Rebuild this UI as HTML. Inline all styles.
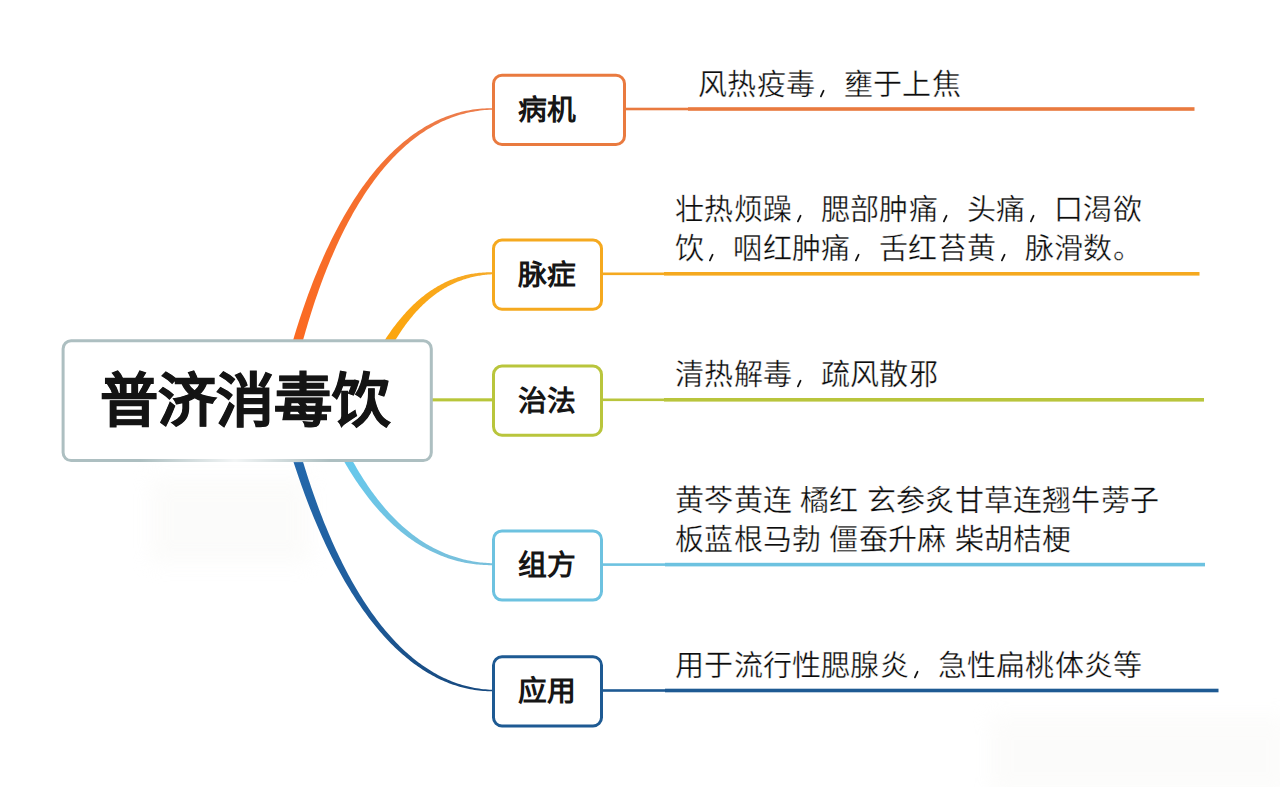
<!DOCTYPE html>
<html lang="zh-CN"><head><meta charset="utf-8"><style>
html,body{margin:0;padding:0;background:#fff;width:1280px;height:787px;overflow:hidden}
body{position:relative;font-family:"Liberation Sans",sans-serif}
svg.main{position:absolute;left:0;top:0}
.cm{display:inline-block;vertical-align:top}
.blob{position:absolute;background:#f3f2ee;filter:blur(10px);opacity:.28}
.tp,.tx,.ct{position:absolute;white-space:nowrap;line-height:1;color:#161616}
.tp{font-size:28.8px;font-weight:700}
.tx{font-size:29px;letter-spacing:0.2px;font-weight:400;color:#0c0c0c;-webkit-text-stroke:0.35px #fff}
.ct{font-size:58.2px;font-weight:700;color:#141414;-webkit-text-stroke:0.8px #141414}
</style></head><body>
<div class="blob" style="left:150px;top:478px;width:160px;height:86px"></div>
<div class="blob" style="left:990px;top:716px;width:300px;height:80px;opacity:.25"></div>
<svg class="main" width="1280" height="787" viewBox="0 0 1280 787">
<defs><linearGradient id="gdb" x1="0" y1="460" x2="0" y2="692" gradientUnits="userSpaceOnUse"><stop offset="0" stop-color="#2468ab"/><stop offset="0.6" stop-color="#1f5d9c"/><stop offset="1" stop-color="#174a80"/></linearGradient><linearGradient id="gor" x1="0" y1="340" x2="0" y2="108" gradientUnits="userSpaceOnUse"><stop offset="0" stop-color="#fb6a22"/><stop offset="0.7" stop-color="#f5702f"/><stop offset="1" stop-color="#ec7d4c"/></linearGradient><linearGradient id="gye" x1="390" y1="0" x2="494" y2="0" gradientUnits="userSpaceOnUse"><stop offset="0" stop-color="#fca60e"/><stop offset="1" stop-color="#f6ab2a"/></linearGradient><linearGradient id="glb" x1="0" y1="460" x2="0" y2="566" gradientUnits="userSpaceOnUse"><stop offset="0" stop-color="#66c8ec"/><stop offset="1" stop-color="#78c0dc"/></linearGradient></defs>
<path d="M293.09,379.61 L294.08,375.38 L295.07,371.18 L296.08,367.00 L297.10,362.86 L298.13,358.75 L299.18,354.66 L300.23,350.60 L301.31,346.58 L302.39,342.58 L303.49,338.61 L304.59,334.68 L305.72,330.77 L306.85,326.89 L308.00,323.05 L309.16,319.23 L310.33,315.45 L311.51,311.69 L312.71,307.97 L313.92,304.27 L315.14,300.61 L316.37,296.98 L317.62,293.38 L318.88,289.81 L320.15,286.28 L321.43,282.77 L322.73,279.30 L324.04,275.85 L325.36,272.44 L326.69,269.07 L328.03,265.72 L329.39,262.41 L330.76,259.12 L332.14,255.88 L333.53,252.66 L334.94,249.48 L336.36,246.32 L337.78,243.21 L339.23,240.12 L340.68,237.07 L342.14,234.05 L343.62,231.07 L345.11,228.11 L346.61,225.20 L348.12,222.31 L349.65,219.46 L351.18,216.64 L352.73,213.86 L354.29,211.11 L355.86,208.40 L357.44,205.72 L359.04,203.07 L360.65,200.46 L362.26,197.88 L363.89,195.34 L365.53,192.84 L367.19,190.36 L368.85,187.93 L370.53,185.53 L372.21,183.16 L373.91,180.83 L375.62,178.53 L377.35,176.28 L379.08,174.05 L380.82,171.86 L382.58,169.71 L384.35,167.60 L386.12,165.52 L387.91,163.47 L389.71,161.46 L391.53,159.49 L393.35,157.56 L395.18,155.66 L397.03,153.80 L398.89,151.98 L400.75,150.19 L402.63,148.44 L404.52,146.73 L406.43,145.05 L408.34,143.41 L410.26,141.81 L412.20,140.25 L414.14,138.72 L416.10,137.23 L418.07,135.78 L420.05,134.37 L422.04,133.00 L424.04,131.66 L426.05,130.36 L428.08,129.10 L430.11,127.88 L432.16,126.70 L434.22,125.55 L436.28,124.45 L438.36,123.38 L440.45,122.35 L442.56,121.36 L444.67,120.41 L446.79,119.50 L448.93,118.63 L451.07,117.80 L453.23,117.01 L455.40,116.25 L457.58,115.54 L459.77,114.87 L461.97,114.23 L464.19,113.64 L466.41,113.09 L468.65,112.57 L470.90,112.10 L473.16,111.67 L475.43,111.28 L477.71,110.93 L480.00,110.62 L482.31,110.35 L484.62,110.12 L486.95,109.93 L489.29,109.78 L491.64,109.67 L494.00,109.60 L494.00,108.20 L491.61,108.17 L489.23,108.20 L486.86,108.27 L484.49,108.38 L482.14,108.54 L479.79,108.74 L477.46,108.98 L475.13,109.27 L472.81,109.59 L470.50,109.97 L468.20,110.38 L465.91,110.83 L463.63,111.33 L461.35,111.87 L459.09,112.45 L456.84,113.08 L454.59,113.74 L452.36,114.45 L450.13,115.20 L447.92,115.98 L445.71,116.81 L443.52,117.69 L441.33,118.60 L439.15,119.55 L436.99,120.54 L434.83,121.58 L432.68,122.65 L430.55,123.77 L428.42,124.92 L426.31,126.12 L424.20,127.35 L422.11,128.63 L420.02,129.94 L417.95,131.29 L415.88,132.68 L413.83,134.12 L411.79,135.59 L409.76,137.10 L407.74,138.65 L405.73,140.23 L403.73,141.86 L401.74,143.52 L399.76,145.23 L397.79,146.97 L395.83,148.75 L393.89,150.56 L391.95,152.42 L390.03,154.31 L388.12,156.24 L386.21,158.20 L384.32,160.21 L382.44,162.25 L380.58,164.33 L378.72,166.44 L376.87,168.59 L375.04,170.78 L373.21,173.01 L371.40,175.27 L369.60,177.57 L367.81,179.90 L366.03,182.27 L364.26,184.67 L362.50,187.12 L360.76,189.59 L359.03,192.10 L357.30,194.65 L355.59,197.23 L353.89,199.85 L352.21,202.50 L350.53,205.19 L348.86,207.91 L347.21,210.67 L345.57,213.46 L343.94,216.29 L342.32,219.15 L340.71,222.04 L339.12,224.97 L337.53,227.93 L335.96,230.93 L334.40,233.96 L332.85,237.02 L331.32,240.12 L329.79,243.25 L328.28,246.41 L326.78,249.61 L325.29,252.84 L323.81,256.10 L322.34,259.39 L320.89,262.72 L319.44,266.08 L318.01,269.47 L316.60,272.90 L315.19,276.36 L313.79,279.85 L312.41,283.37 L311.04,286.92 L309.68,290.50 L308.34,294.12 L307.00,297.77 L305.68,301.44 L304.37,305.15 L303.07,308.90 L301.79,312.67 L300.51,316.47 L299.25,320.30 L298.00,324.17 L296.77,328.06 L295.54,331.99 L294.33,335.95 L293.13,339.93 L291.94,343.95 L290.77,347.99 L289.60,352.07 L288.45,356.17 L287.31,360.31 L286.19,364.47 L285.08,368.67 L283.98,372.89 L282.89,377.15Z" fill="url(#gor)"/>
<path d="M379.72,369.73 L380.44,368.16 L381.17,366.60 L381.91,365.06 L382.65,363.52 L383.39,362.01 L384.13,360.50 L384.88,359.01 L385.63,357.53 L386.39,356.06 L387.15,354.61 L387.91,353.17 L388.67,351.74 L389.44,350.33 L390.21,348.93 L390.99,347.55 L391.77,346.17 L392.55,344.81 L393.34,343.47 L394.13,342.13 L394.92,340.81 L395.72,339.51 L396.52,338.21 L397.32,336.93 L398.13,335.66 L398.94,334.41 L399.75,333.17 L400.57,331.94 L401.39,330.73 L402.22,329.53 L403.05,328.34 L403.88,327.16 L404.72,326.00 L405.56,324.85 L406.40,323.72 L407.25,322.59 L408.10,321.48 L408.95,320.39 L409.81,319.31 L410.68,318.24 L411.54,317.18 L412.41,316.13 L413.29,315.10 L414.17,314.09 L415.05,313.08 L415.93,312.09 L416.82,311.11 L417.72,310.14 L418.61,309.19 L419.52,308.25 L420.42,307.33 L421.33,306.41 L422.24,305.51 L423.16,304.62 L424.08,303.75 L425.01,302.89 L425.94,302.04 L426.87,301.20 L427.81,300.38 L428.75,299.57 L429.70,298.77 L430.65,297.98 L431.61,297.21 L432.57,296.45 L433.53,295.71 L434.50,294.97 L435.47,294.25 L436.45,293.55 L437.43,292.85 L438.41,292.17 L439.40,291.50 L440.40,290.84 L441.40,290.20 L442.40,289.57 L443.41,288.95 L444.42,288.34 L445.44,287.75 L446.46,287.17 L447.49,286.60 L448.52,286.05 L449.56,285.50 L450.60,284.97 L451.64,284.46 L452.69,283.95 L453.75,283.46 L454.81,282.98 L455.88,282.52 L456.95,282.06 L458.02,281.62 L459.10,281.19 L460.19,280.78 L461.28,280.38 L462.37,279.99 L463.48,279.61 L464.58,279.24 L465.69,278.89 L466.81,278.55 L467.93,278.22 L469.06,277.91 L470.19,277.61 L471.33,277.32 L472.47,277.04 L473.62,276.78 L474.77,276.53 L475.93,276.29 L477.10,276.06 L478.27,275.85 L479.45,275.65 L480.63,275.46 L481.81,275.29 L483.01,275.12 L484.21,274.97 L485.41,274.84 L486.62,274.71 L487.84,274.60 L489.06,274.50 L490.28,274.41 L491.52,274.33 L492.76,274.26 L494.00,274.20 L494.00,272.40 L492.73,272.35 L491.47,272.32 L490.22,272.31 L488.96,272.32 L487.71,272.33 L486.47,272.37 L485.23,272.41 L483.99,272.47 L482.75,272.55 L481.52,272.64 L480.30,272.74 L479.07,272.86 L477.86,272.99 L476.64,273.14 L475.43,273.30 L474.22,273.47 L473.02,273.66 L471.82,273.86 L470.63,274.07 L469.43,274.30 L468.25,274.54 L467.06,274.80 L465.88,275.07 L464.71,275.35 L463.54,275.65 L462.37,275.97 L461.20,276.29 L460.04,276.63 L458.89,276.99 L457.73,277.35 L456.58,277.73 L455.44,278.13 L454.30,278.54 L453.16,278.96 L452.03,279.40 L450.90,279.85 L449.77,280.32 L448.65,280.80 L447.53,281.29 L446.42,281.80 L445.31,282.32 L444.20,282.85 L443.10,283.40 L442.00,283.96 L440.90,284.54 L439.81,285.13 L438.73,285.73 L437.64,286.35 L436.56,286.98 L435.49,287.63 L434.42,288.29 L433.35,288.96 L432.29,289.65 L431.23,290.35 L430.17,291.07 L429.12,291.79 L428.07,292.54 L427.03,293.29 L425.99,294.06 L424.95,294.85 L423.92,295.64 L422.89,296.45 L421.86,297.28 L420.84,298.12 L419.83,298.97 L418.81,299.84 L417.80,300.71 L416.80,301.61 L415.80,302.51 L414.80,303.44 L413.80,304.37 L412.81,305.32 L411.83,306.28 L410.84,307.25 L409.86,308.24 L408.89,309.24 L407.92,310.26 L406.95,311.29 L405.98,312.33 L405.02,313.39 L404.07,314.46 L403.11,315.54 L402.16,316.64 L401.22,317.75 L400.28,318.88 L399.34,320.01 L398.40,321.17 L397.47,322.33 L396.54,323.51 L395.62,324.70 L394.70,325.91 L393.78,327.12 L392.87,328.36 L391.96,329.60 L391.05,330.86 L390.15,332.13 L389.25,333.42 L388.35,334.72 L387.46,336.03 L386.57,337.36 L385.68,338.70 L384.80,340.05 L383.92,341.42 L383.04,342.80 L382.17,344.19 L381.30,345.60 L380.43,347.02 L379.57,348.45 L378.71,349.90 L377.85,351.36 L377.00,352.84 L376.15,354.32 L375.30,355.82 L374.46,357.34 L373.62,358.87 L372.78,360.41 L371.95,361.96 L371.12,363.53 L370.29,365.11Z" fill="url(#gye)"/>
<path d="M282.09,423.80 L283.32,428.20 L284.56,432.57 L285.82,436.91 L287.08,441.21 L288.36,445.47 L289.65,449.70 L290.95,453.89 L292.26,458.05 L293.58,462.17 L294.91,466.26 L296.26,470.31 L297.61,474.33 L298.98,478.31 L300.35,482.26 L301.74,486.17 L303.14,490.05 L304.55,493.89 L305.97,497.69 L307.39,501.46 L308.83,505.19 L310.28,508.89 L311.74,512.55 L313.22,516.18 L314.70,519.77 L316.19,523.32 L317.69,526.84 L319.20,530.33 L320.72,533.77 L322.25,537.18 L323.79,540.56 L325.35,543.90 L326.91,547.20 L328.48,550.47 L330.06,553.70 L331.65,556.89 L333.25,560.05 L334.86,563.17 L336.48,566.25 L338.10,569.30 L339.74,572.32 L341.39,575.29 L343.05,578.23 L344.71,581.13 L346.39,584.00 L348.07,586.83 L349.76,589.62 L351.46,592.38 L353.18,595.10 L354.90,597.78 L356.62,600.42 L358.36,603.03 L360.11,605.61 L361.86,608.14 L363.63,610.64 L365.40,613.10 L367.18,615.52 L368.97,617.91 L370.77,620.26 L372.58,622.57 L374.39,624.84 L376.21,627.08 L378.04,629.28 L379.88,631.44 L381.73,633.57 L383.59,635.66 L385.45,637.71 L387.32,639.72 L389.20,641.69 L391.09,643.63 L392.99,645.53 L394.89,647.39 L396.80,649.21 L398.72,651.00 L400.64,652.74 L402.58,654.45 L404.52,656.12 L406.47,657.76 L408.42,659.35 L410.39,660.91 L412.36,662.43 L414.33,663.91 L416.32,665.35 L418.31,666.75 L420.31,668.12 L422.31,669.44 L424.32,670.73 L426.34,671.98 L428.37,673.19 L430.40,674.36 L432.44,675.49 L434.48,676.58 L436.53,677.64 L438.59,678.65 L440.65,679.63 L442.72,680.57 L444.80,681.47 L446.88,682.33 L448.97,683.15 L451.06,683.93 L453.16,684.67 L455.26,685.37 L457.37,686.03 L459.49,686.65 L461.61,687.24 L463.73,687.78 L465.86,688.29 L468.00,688.75 L470.14,689.18 L472.29,689.56 L474.44,689.91 L476.59,690.21 L478.75,690.48 L480.92,690.70 L483.09,690.89 L485.26,691.03 L487.44,691.14 L489.62,691.20 L491.81,691.22 L494.00,691.20 L494.00,689.80 L491.84,689.74 L489.68,689.64 L487.53,689.51 L485.39,689.34 L483.25,689.13 L481.12,688.88 L479.00,688.60 L476.88,688.27 L474.77,687.91 L472.67,687.51 L470.57,687.08 L468.48,686.60 L466.40,686.09 L464.32,685.53 L462.25,684.94 L460.19,684.32 L458.13,683.65 L456.08,682.94 L454.04,682.20 L452.00,681.42 L449.98,680.60 L447.96,679.75 L445.94,678.86 L443.93,677.92 L441.93,676.95 L439.94,675.95 L437.95,674.90 L435.98,673.82 L434.00,672.70 L432.04,671.54 L430.08,670.35 L428.13,669.11 L426.19,667.84 L424.25,666.54 L422.33,665.19 L420.40,663.81 L418.49,662.39 L416.59,660.93 L414.69,659.43 L412.80,657.90 L410.91,656.33 L409.04,654.72 L407.17,653.08 L405.31,651.40 L403.46,649.68 L401.61,647.92 L399.78,646.13 L397.95,644.30 L396.13,642.43 L394.32,640.52 L392.51,638.58 L390.72,636.60 L388.93,634.58 L387.15,632.53 L385.38,630.44 L383.61,628.31 L381.86,626.15 L380.11,623.95 L378.37,621.71 L376.64,619.43 L374.92,617.12 L373.21,614.77 L371.51,612.39 L369.81,609.96 L368.13,607.51 L366.45,605.01 L364.78,602.48 L363.12,599.91 L361.47,597.30 L359.83,594.66 L358.20,591.98 L356.58,589.27 L354.97,586.52 L353.36,583.73 L351.77,580.91 L350.18,578.05 L348.61,575.15 L347.04,572.22 L345.49,569.25 L343.94,566.24 L342.40,563.20 L340.88,560.12 L339.36,557.01 L337.85,553.86 L336.35,550.68 L334.87,547.45 L333.39,544.20 L331.92,540.90 L330.46,537.58 L329.02,534.21 L327.58,530.81 L326.15,527.37 L324.74,523.90 L323.33,520.39 L321.94,516.85 L320.55,513.27 L319.18,509.66 L317.82,506.01 L316.46,502.32 L315.12,498.60 L313.79,494.85 L312.47,491.05 L311.16,487.23 L309.86,483.37 L308.58,479.47 L307.30,475.54 L306.04,471.57 L304.78,467.57 L303.54,463.53 L302.31,459.46 L301.09,455.35 L299.88,451.21 L298.69,447.03 L297.50,442.82 L296.33,438.57 L295.17,434.29 L294.02,429.97 L292.88,425.62 L291.75,421.23Z" fill="url(#gdb)"/>
<path d="M310.05,388.34 L311.31,391.62 L312.57,394.87 L313.84,398.08 L315.11,401.26 L316.39,404.40 L317.67,407.51 L318.97,410.59 L320.27,413.63 L321.57,416.63 L322.88,419.60 L324.20,422.54 L325.53,425.44 L326.86,428.31 L328.19,431.14 L329.54,433.94 L330.88,436.71 L332.24,439.44 L333.60,442.14 L334.97,444.81 L336.34,447.44 L337.72,450.04 L339.10,452.61 L340.49,455.14 L341.89,457.65 L343.29,460.12 L344.70,462.55 L346.11,464.96 L347.53,467.33 L348.95,469.67 L350.38,471.98 L351.82,474.26 L353.26,476.51 L354.70,478.72 L356.15,480.91 L357.61,483.06 L359.07,485.18 L360.54,487.27 L362.01,489.33 L363.49,491.36 L364.97,493.36 L366.46,495.32 L367.95,497.26 L369.45,499.17 L370.95,501.05 L372.46,502.89 L373.97,504.71 L375.49,506.50 L377.01,508.26 L378.53,509.98 L380.06,511.68 L381.60,513.35 L383.14,514.99 L384.69,516.61 L386.23,518.19 L387.79,519.74 L389.35,521.27 L390.91,522.77 L392.47,524.24 L394.05,525.68 L395.62,527.09 L397.20,528.47 L398.78,529.83 L400.37,531.16 L401.96,532.46 L403.56,533.73 L405.16,534.98 L406.76,536.20 L408.37,537.39 L409.98,538.55 L411.59,539.69 L413.21,540.80 L414.83,541.89 L416.45,542.94 L418.08,543.98 L419.71,544.98 L421.35,545.96 L422.99,546.91 L424.63,547.84 L426.27,548.74 L427.92,549.62 L429.57,550.47 L431.23,551.29 L432.88,552.09 L434.54,552.86 L436.20,553.61 L437.87,554.34 L439.54,555.03 L441.21,555.71 L442.88,556.36 L444.56,556.99 L446.24,557.59 L447.92,558.16 L449.60,558.72 L451.28,559.25 L452.97,559.75 L454.66,560.23 L456.35,560.69 L458.05,561.13 L459.74,561.54 L461.44,561.93 L463.14,562.30 L464.84,562.64 L466.54,562.96 L468.25,563.26 L469.96,563.54 L471.67,563.79 L473.38,564.02 L475.09,564.23 L476.80,564.42 L478.51,564.58 L480.23,564.73 L481.95,564.85 L483.67,564.95 L485.39,565.03 L487.11,565.09 L488.83,565.13 L490.55,565.14 L492.28,565.13 L494.00,565.10 L494.00,563.30 L492.30,563.25 L490.60,563.18 L488.90,563.09 L487.21,562.99 L485.51,562.87 L483.82,562.72 L482.14,562.56 L480.46,562.38 L478.78,562.17 L477.10,561.95 L475.42,561.71 L473.75,561.44 L472.09,561.15 L470.42,560.85 L468.76,560.52 L467.10,560.17 L465.45,559.80 L463.79,559.41 L462.15,558.99 L460.50,558.56 L458.86,558.10 L457.22,557.62 L455.58,557.12 L453.95,556.59 L452.32,556.04 L450.70,555.47 L449.08,554.88 L447.46,554.27 L445.85,553.63 L444.24,552.97 L442.63,552.28 L441.03,551.57 L439.43,550.84 L437.83,550.09 L436.24,549.31 L434.65,548.50 L433.07,547.68 L431.49,546.83 L429.91,545.95 L428.34,545.05 L426.77,544.13 L425.20,543.18 L423.64,542.20 L422.09,541.20 L420.53,540.18 L418.98,539.13 L417.44,538.06 L415.90,536.96 L414.36,535.83 L412.83,534.68 L411.30,533.50 L409.78,532.30 L408.26,531.07 L406.75,529.81 L405.24,528.53 L403.73,527.22 L402.23,525.88 L400.73,524.52 L399.24,523.13 L397.75,521.71 L396.27,520.27 L394.79,518.79 L393.31,517.29 L391.84,515.77 L390.38,514.21 L388.92,512.63 L387.46,511.02 L386.01,509.38 L384.56,507.71 L383.12,506.01 L381.69,504.28 L380.26,502.53 L378.83,500.74 L377.41,498.93 L375.99,497.09 L374.58,495.22 L373.18,493.32 L371.78,491.38 L370.38,489.42 L368.99,487.43 L367.61,485.41 L366.23,483.36 L364.86,481.28 L363.49,479.17 L362.13,477.02 L360.77,474.85 L359.42,472.64 L358.08,470.41 L356.74,468.14 L355.40,465.84 L354.07,463.51 L352.75,461.15 L351.44,458.75 L350.13,456.33 L348.82,453.87 L347.53,451.38 L346.23,448.86 L344.95,446.31 L343.67,443.72 L342.39,441.10 L341.13,438.45 L339.87,435.76 L338.61,433.04 L337.37,430.29 L336.12,427.50 L334.89,424.68 L333.66,421.83 L332.44,418.94 L331.23,416.02 L330.02,413.07 L328.82,410.08 L327.62,407.06 L326.43,404.00 L325.25,400.91 L324.08,397.78 L322.91,394.62 L321.75,391.42 L320.60,388.19 L319.45,384.92Z" fill="url(#glb)"/>
<rect x="430" y="398.3" width="64" height="3.1" fill="#b8c63a"/>
<rect x="625" y="107.70" width="63" height="2.6" fill="#e97a3f"/>
<rect x="688" y="107.20" width="506.5" height="3.6" fill="#e97a3f"/>
<rect x="493.5" y="75.30" width="131" height="69.2" rx="8.5" fill="#fff" stroke="#e97a3f" stroke-width="3"/>
<rect x="602" y="272.50" width="62" height="2.6" fill="#f5a91f"/>
<rect x="664" y="272.00" width="535.5" height="3.6" fill="#f5a91f"/>
<rect x="493.5" y="240.10" width="108" height="69.2" rx="8.5" fill="#fff" stroke="#f5a91f" stroke-width="3"/>
<rect x="602" y="398.50" width="62" height="2.6" fill="#b9c53c"/>
<rect x="664" y="398.00" width="540" height="3.6" fill="#b9c53c"/>
<rect x="493.5" y="366.10" width="108" height="69.2" rx="8.5" fill="#fff" stroke="#b9c53c" stroke-width="3"/>
<rect x="602" y="563.30" width="63" height="2.6" fill="#6dc2e0"/>
<rect x="665" y="562.80" width="540" height="3.6" fill="#6dc2e0"/>
<rect x="493.5" y="530.90" width="108" height="69.2" rx="8.5" fill="#fff" stroke="#6dc2e0" stroke-width="3"/>
<rect x="602" y="689.20" width="63" height="2.6" fill="#1e5a93"/>
<rect x="665" y="688.70" width="553.5" height="3.6" fill="#1e5a93"/>
<rect x="493.5" y="656.80" width="108" height="69.2" rx="8.5" fill="#fff" stroke="#1e5a93" stroke-width="3"/>
<rect x="63.1" y="340.75" width="368.2" height="119.8" rx="8" fill="#fff" stroke="#adbfc1" stroke-width="3"/>
<defs><linearGradient id="gbb" x1="140" y1="0" x2="330" y2="0" gradientUnits="userSpaceOnUse"><stop offset="0" stop-color="#fff" stop-opacity="0"/><stop offset="0.5" stop-color="#fff" stop-opacity="0.85"/><stop offset="1" stop-color="#fff" stop-opacity="0"/></linearGradient></defs>
<rect x="140" y="458.8" width="190" height="3.6" fill="url(#gbb)"/>
</svg>
<div class="tp" style="left:518px;top:95.8px">病机</div>
<div class="tx" style="left:698.2px;top:70.7px">风热疫毒<svg class="cm" width="29" height="29" viewBox="0 0 29 29"><path d="M8.6 19.7 L5.9 25.4" stroke="#111" stroke-width="1.75" stroke-linecap="round"/></svg>壅于上焦</div>
<div class="tp" style="left:518px;top:260.6px">脉症</div>
<div class="tx" style="left:675.2px;top:195.5px">壮热烦躁<svg class="cm" width="29" height="29" viewBox="0 0 29 29"><path d="M8.6 19.7 L5.9 25.4" stroke="#111" stroke-width="1.75" stroke-linecap="round"/></svg>腮部肿痛<svg class="cm" width="29" height="29" viewBox="0 0 29 29"><path d="M8.6 19.7 L5.9 25.4" stroke="#111" stroke-width="1.75" stroke-linecap="round"/></svg>头痛<svg class="cm" width="29" height="29" viewBox="0 0 29 29"><path d="M8.6 19.7 L5.9 25.4" stroke="#111" stroke-width="1.75" stroke-linecap="round"/></svg>口渴欲</div>
<div class="tx" style="left:675.2px;top:235.0px">饮<svg class="cm" width="29" height="29" viewBox="0 0 29 29"><path d="M8.6 19.7 L5.9 25.4" stroke="#111" stroke-width="1.75" stroke-linecap="round"/></svg>咽红肿痛<svg class="cm" width="29" height="29" viewBox="0 0 29 29"><path d="M8.6 19.7 L5.9 25.4" stroke="#111" stroke-width="1.75" stroke-linecap="round"/></svg>舌红苔黄<svg class="cm" width="29" height="29" viewBox="0 0 29 29"><path d="M8.6 19.7 L5.9 25.4" stroke="#111" stroke-width="1.75" stroke-linecap="round"/></svg>脉滑数。</div>
<div class="tp" style="left:518px;top:386.6px">治法</div>
<div class="tx" style="left:675.2px;top:360.9px">清热解毒<svg class="cm" width="29" height="29" viewBox="0 0 29 29"><path d="M8.6 19.7 L5.9 25.4" stroke="#111" stroke-width="1.75" stroke-linecap="round"/></svg>疏风散邪</div>
<div class="tp" style="left:518px;top:551.4px">组方</div>
<div class="tx" style="left:675.2px;top:486.6px">黄芩黄连 橘红 玄参炙甘草连翘牛蒡子</div>
<div class="tx" style="left:675.2px;top:526.1px">板蓝根马勃 僵蚕升麻 柴胡桔梗</div>
<div class="tp" style="left:518px;top:677.3px">应用</div>
<div class="tx" style="left:675.2px;top:652.4px">用于流行性腮腺炎<svg class="cm" width="29" height="29" viewBox="0 0 29 29"><path d="M8.6 19.7 L5.9 25.4" stroke="#111" stroke-width="1.75" stroke-linecap="round"/></svg>急性扁桃体炎等</div>
<div class="ct" style="left:99.9px;top:372px">普济消毒饮</div>
</body></html>
